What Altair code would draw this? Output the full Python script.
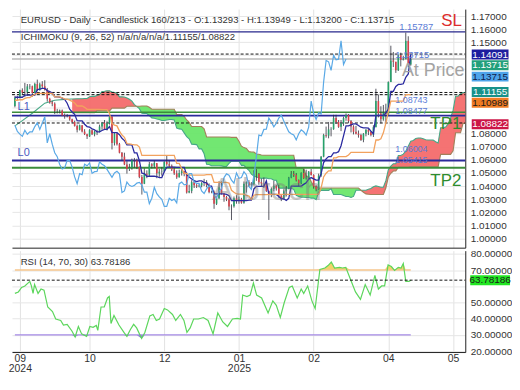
import altair as alt
import pandas as pd

# ---------------- values ----------------
first_open = 1.1013
closes = [1.1075,1.1075,1.1133,1.1115,1.1118,1.1162,1.1163,1.1112,1.1180,1.1133,
 1.1177,1.1163,1.1135,1.1067,1.1040,1.1030,1.0975,1.0975,1.0978,1.0940,
 1.0935,1.0935,1.0910,1.0890,1.0860,1.0830,1.0865,1.0817,1.0797,1.0780,
 1.0827,1.0796,1.0815,1.0815,1.0855,1.0883,1.0833,1.0880,1.0930,1.0730,
 1.0800,1.0720,1.0655,1.0625,1.0565,1.0530,1.0540,1.0597,1.0595,1.0545,
 1.0470,1.0418,1.0495,1.0487,1.0567,1.0555,1.0577,1.0497,1.0510,1.0512,
 1.0585,1.0567,1.0555,1.0528,1.0497,1.0467,1.0500,1.0513,1.0494,1.0351,
 1.0363,1.0430,1.0406,1.0397,1.0405,1.0423,1.0428,1.0408,1.0354,1.0354,
 1.0265,1.0307,1.0390,1.0342,1.0317,1.0299,1.0244,1.0245,1.0307,1.0290,
 1.0300,1.0272,1.0418,1.0430,1.0409,1.0413,1.0495,1.0495,1.0430,1.0420,
 1.0420,1.0362,1.0343,1.0378,1.0403,1.0382,1.0328,1.0308,1.0360,1.0380,
 1.0465,1.0493,1.0483,1.0445,1.0422,1.0500,1.0460,1.0465,1.0510,1.0485,
 1.0397,1.0375,1.0480,1.0625,1.0790,1.0785,1.0833,1.0835,1.0920,1.0890,
 1.0853,1.0880,1.0920,1.0943,1.0897,1.0855,1.0815,1.0800,1.0790,1.0753,
 1.0800,1.0830,1.0815,1.0790,1.0850,1.1050,1.0955,1.0910,1.0960,1.0950,
 1.1195,1.1360,1.1350,1.1285,1.1400,1.1365,1.1370,1.1510,1.1329,1.13715]
highs = [1.1087,1.1090,1.1136,1.1147,1.1189,1.1180,1.1180,1.1168,1.1190,1.1214,
 1.1190,1.1202,1.1209,1.1150,1.1075,1.1052,1.1040,1.0990,1.0985,1.0985,
 1.0955,1.0950,1.0940,1.0915,1.0900,1.0870,1.0870,1.0865,1.0835,1.0800,
 1.0835,1.0835,1.0825,1.0830,1.0870,1.0890,1.0905,1.0895,1.0935,1.0935,
 1.0810,1.0810,1.0730,1.0660,1.0655,1.0590,1.0570,1.0610,1.0615,1.0610,
 1.0550,1.0485,1.0535,1.0520,1.0585,1.0575,1.0595,1.0570,1.0530,1.0545,
 1.0590,1.0630,1.0595,1.0565,1.0540,1.0520,1.0525,1.0535,1.0515,1.0505,
 1.0410,1.0445,1.0445,1.0415,1.0415,1.0430,1.0455,1.0445,1.0420,1.0365,
 1.0365,1.0320,1.0437,1.0435,1.0345,1.0325,1.0310,1.0260,1.0320,1.0330,
 1.0320,1.0310,1.0435,1.0435,1.0445,1.0430,1.0520,1.0530,1.0500,1.0455,
 1.0465,1.0420,1.0365,1.0390,1.0440,1.0410,1.0410,1.0330,1.0375,1.0400,
 1.0470,1.0515,1.0515,1.0500,1.0450,1.0505,1.0530,1.0525,1.0515,1.0530,
 1.0490,1.0405,1.0495,1.0630,1.0800,1.0855,1.0890,1.0850,1.0945,1.0945,
 1.0905,1.0905,1.0930,1.0955,1.0950,1.0905,1.0865,1.0860,1.0825,1.0800,
 1.0805,1.0835,1.0840,1.0820,1.0865,1.1144,1.1100,1.1010,1.1020,1.1030,
 1.1200,1.1473,1.1425,1.1350,1.1405,1.1420,1.1395,1.1573,1.1545,1.13949]
lows = [1.1002,1.1060,1.1070,1.1100,1.1080,1.1090,1.1140,1.1083,1.1110,1.1125,
 1.1130,1.1150,1.1130,1.1045,1.1030,1.1010,1.0950,1.0955,1.0955,1.0935,
 1.0915,1.0925,1.0900,1.0880,1.0855,1.0810,1.0825,1.0810,1.0790,1.0760,
 1.0775,1.0790,1.0780,1.0790,1.0810,1.0830,1.0830,1.0825,1.0870,1.0680,
 1.0710,1.0710,1.0650,1.0595,1.0560,1.0495,1.0515,1.0525,1.0540,1.0530,
 1.0460,1.0335,1.0415,1.0460,1.0470,1.0535,1.0540,1.0460,1.0470,1.0480,
 1.0505,1.0555,1.0545,1.0515,1.0485,1.0455,1.0465,1.0480,1.0475,1.0343,
 1.0345,1.0345,1.0385,1.0385,1.0390,1.0390,1.0400,1.0390,1.0345,1.0345,
 1.0226,1.0255,1.0300,1.0335,1.0280,1.0285,1.0215,1.0140,1.0235,1.0265,
 1.0265,1.0265,1.0265,1.0350,1.0395,1.0380,1.0405,1.0440,1.0410,1.0400,
 1.0385,1.0355,1.0141,1.0315,1.0360,1.0365,1.0310,1.0285,1.0295,1.0320,
 1.0375,1.0460,1.0470,1.0435,1.0400,1.0415,1.0455,1.0450,1.0455,1.0480,
 1.0380,1.0360,1.0370,1.0470,1.0620,1.0770,1.0765,1.0780,1.0830,1.0875,
 1.0845,1.0820,1.0860,1.0900,1.0880,1.0810,1.0795,1.0795,1.0770,1.0745,
 1.0735,1.0780,1.0790,1.0780,1.0775,1.0850,1.0925,1.0880,1.0900,1.0890,
 1.0940,1.1195,1.1310,1.1265,1.1280,1.1315,1.1360,1.1370,1.1310,1.13200]
tenkan = [1.1079,1.1079,1.1079,1.1079,1.1096,1.1096,1.1096,1.1096,1.1096,1.1137,
 1.1142,1.1147,1.1147,1.1130,1.1122,1.1112,1.1082,1.1082,1.1080,1.1072,
 1.1062,1.1033,1.0988,1.0966,1.0948,1.0900,1.0898,1.0898,1.0873,1.0855,
 1.0850,1.0838,1.0830,1.0815,1.0815,1.0825,1.0833,1.0833,1.0855,1.0808,
 1.0808,1.0808,1.0793,1.0765,1.0748,1.0715,1.0715,1.0715,1.0653,1.0653,
 1.0595,1.0498,1.0495,1.0475,1.0475,1.0475,1.0475,1.0473,1.0465,1.0465,
 1.0510,1.0545,1.0545,1.0545,1.0545,1.0543,1.0543,1.0543,1.0543,1.0487,
 1.0469,1.0454,1.0442,1.0434,1.0439,1.0439,1.0429,1.0424,1.0400,1.0400,
 1.0340,1.0340,1.0340,1.0340,1.0340,1.0336,1.0326,1.0289,1.0289,1.0289,
 1.0289,1.0288,1.0288,1.0288,1.0293,1.0293,1.0378,1.0398,1.0398,1.0398,
 1.0398,1.0440,1.0336,1.0336,1.0336,1.0336,1.0320,1.0303,1.0303,1.0290,
 1.0306,1.0400,1.0400,1.0400,1.0400,1.0400,1.0413,1.0425,1.0453,1.0465,
 1.0455,1.0445,1.0445,1.0495,1.0580,1.0608,1.0625,1.0625,1.0653,1.0653,
 1.0663,1.0708,1.0783,1.0860,1.0860,1.0868,1.0875,1.0875,1.0863,1.0850,
 1.0845,1.0845,1.0843,1.0820,1.0800,1.0940,1.0940,1.0940,1.0940,1.0960,
 1.0988,1.1124,1.1124,1.1162,1.1177,1.1177,1.1182,1.1232,1.1257,1.1409]
kijun = [1.1056,1.1056,1.1060,1.1060,1.1070,1.1076,1.1076,1.1090,1.1102,1.1108,
 1.1108,1.1108,1.1108,1.1108,1.1108,1.1108,1.1082,1.1082,1.1082,1.1075,
 1.1065,1.1065,1.1057,1.1047,1.1035,1.1012,1.1012,1.1012,1.1002,1.0987,
 1.0987,1.0987,1.0987,1.0987,1.0987,1.0985,1.0985,1.0985,1.0955,1.0878,
 1.0866,1.0860,1.0820,1.0790,1.0773,1.0725,1.0723,1.0718,1.0715,1.0715,
 1.0698,1.0635,1.0635,1.0635,1.0635,1.0635,1.0635,1.0635,1.0635,1.0635,
 1.0635,1.0635,1.0635,1.0635,1.0635,1.0573,1.0573,1.0533,1.0498,1.0495,
 1.0483,1.0483,1.0483,1.0483,1.0483,1.0483,1.0483,1.0487,1.0487,1.0487,
 1.0428,1.0428,1.0428,1.0428,1.0428,1.0428,1.0423,1.0368,1.0353,1.0340,
 1.0338,1.0338,1.0338,1.0328,1.0323,1.0298,1.0330,1.0335,1.0335,1.0335,
 1.0335,1.0335,1.0336,1.0336,1.0336,1.0336,1.0336,1.0336,1.0336,1.0336,
 1.0336,1.0336,1.0336,1.0336,1.0336,1.0336,1.0336,1.0336,1.0336,1.0336,
 1.0336,1.0336,1.0336,1.0386,1.0470,1.0498,1.0516,1.0516,1.0615,1.0615,
 1.0625,1.0625,1.0625,1.0625,1.0638,1.0658,1.0658,1.0658,1.0658,1.0658,
 1.0658,1.0658,1.0658,1.0658,1.0658,1.0752,1.0752,1.0762,1.0807,1.0882,
 1.0968,1.1050,1.1050,1.1050,1.1050,1.1050,1.1050,1.1099,1.1099,1.1099]
span_a_early_bars = [0, 3, 7, 12, 16, 20, 23, 25]
span_a_early = [1.0860, 1.0900, 1.0957, 1.1034, 1.1056, 1.1063, 1.1066, 1.1068]
span_a_first_bar = 26
span_a = [1.1068,1.1068,1.1070,1.1070,1.1083,1.1086,1.1086,1.1093,1.1099,1.1123,
 1.1125,1.1128,1.1128,1.1119,1.1115,1.1110,1.1082,1.1082,1.1081,1.1074,
 1.1064,1.1049,1.1023,1.1007,1.0992,1.0956,1.0955,1.0955,1.0938,1.0921,
 1.0919,1.0913,1.0909,1.0901,1.0901,1.0905,1.0909,1.0909,1.0905,1.0843,
 1.0837,1.0834,1.0807,1.0778,1.0761,1.0720,1.0719,1.0717,1.0684,1.0684,
 1.0647,1.0567,1.0565,1.0555,1.0555,1.0555,1.0555,1.0554,1.0550,1.0550,
 1.0573,1.0590,1.0590,1.0590,1.0590,1.0558,1.0558,1.0538,1.0521,1.0491,
 1.0476,1.0469,1.0463,1.0459,1.0461,1.0461,1.0456,1.0456,1.0444,1.0444,
 1.0384,1.0384,1.0384,1.0384,1.0384,1.0382,1.0375,1.0329,1.0321,1.0315,
 1.0314,1.0313,1.0313,1.0308,1.0308,1.0296,1.0354,1.0367,1.0367,1.0367,
 1.0367,1.0380,1.0336,1.0336,1.0336,1.0336,1.0328,1.0320,1.0320,1.0313,
 1.0321,1.0368,1.0368,1.0368,1.0368,1.0368,1.0375,1.0381,1.0395,1.0401,
 1.0396,1.0391,1.0391,1.0441,1.0525,1.0553,1.0571,1.0571,1.0634,1.0634,
 1.0644,1.0667,1.0704,1.0743,1.0749,1.0763,1.0767,1.0767,1.0761,1.0754,
 1.0752,1.0752,1.0751,1.0739,1.0729,1.0846,1.0846,1.0851,1.0874,1.0921,
 1.0978,1.1087,1.1087,1.1106,1.1114,1.1114,1.1116,1.1166,1.1178,1.1254]
span_b_first_bar = 23
span_b = [1.0960,1.0960,1.0960,1.0960,1.0960,1.0960,1.0960,1.0960,1.0960,1.0960,
 1.0975,1.0975,1.0975,1.0975,1.0975,1.0975,
 1.0996,1.0996,1.0996,1.0996,1.0996,1.0996,
 1.1010,1.1010,1.1010,1.1010,1.1010,1.1010,
 1.1012,1.1012,1.1012,1.1002,
 1.0987,1.0987,1.0987,1.0987,1.0987,1.0987,1.0987,1.0987,1.0987,1.0987,
 1.0947,1.0947,1.0947,1.0932,1.0905,1.0887,
 1.0855,1.0855,1.0855,1.0855,1.0855,1.0837,
 1.0775,1.0775,1.0775,1.0775,1.0775,1.0775,1.0775,1.0775,1.0775,1.0775,
 1.0772,1.0772,1.0772,1.0743,1.0705,1.0694,1.0688,1.0663,1.0660,1.0660,
 1.0645,1.0643,1.0638,
 1.0635,1.0635,1.0635,1.0635,1.0635,1.0635,1.0635,1.0635,1.0635,1.0635,1.0635,1.0635,1.0635,
 1.0538,1.0538,1.0538,1.0538,1.0475,1.0475,1.0435,1.0400,1.0398,
 1.0385,1.0385,1.0385,1.0385,1.0385,1.0385,1.0385,1.0385,1.0385,1.0385,
 1.0385,1.0385,1.0385,1.0385,1.0385,1.0385,1.0385,
 1.0368,1.0353,1.0340,1.0338,
 1.0336,1.0336,1.0336,1.0336,1.0336,1.0336,
 1.0385,1.0470,1.0498,1.0515,1.0515,
 1.0543,1.0543,1.0543,1.0543,1.0543,
 1.0548,1.0548,1.0548,1.0548,1.0548,1.0548,1.0548,1.0548,1.0548,1.0548,1.0548,1.0548,
 1.0642,1.0642,1.0642,1.0642,1.0642,1.0670,
 1.0807,1.0807,1.0807,1.0879,1.0879,1.0879,1.0929,1.0929,1.0929]
rsi_bars = [0,1.4,2.7,4.0,6.0,6.6,7.3,7.9,9.3,10.5,11.7,13.2,15.1,16.4,18.4,19.5,21.0,22.9,24.2,25.5,
 26.8,28.8,30.1,31.4,32.7,33.3,34.6,35.9,37.2,37.9,38.6,39.8,41.8,43.8,45.0,46.4,47.7,48.9,50.9,52.2,
 54.2,55.5,56.8,58.1,60.0,61.3,63.3,64.6,66.5,67.9,69.1,70.4,71.8,73.7,75.7,77.6,79.6,81.5,83.5,85.4,
 87.4,89.3,90.6,91.5,93.2,94.5,95.8,97.1,99.1,101.7,103.6,105.0,106.6,108.2,110.2,111.4,113.4,115.0,116.0,117.6,
 119.3,120.6,122.5,124.5,125.8,127.1,128.4,130.4,131.6,132.9,134.9,136.8,138.8,140.7,142.7,144.6,146.0,147.3,148.5,149.9,
 151.2,152.5,154.0,155.1,156.0,157.0,158.3,159.0]
rsi_values = [55.6,56.5,59.3,60.2,63.0,60.4,55.6,61.1,55.6,58.3,57.6,47.2,44.4,39.8,38.9,36.1,36.5,32.4,28.7,35.2,
 30.6,29.1,35.2,34.7,35.8,32.8,47.2,47.2,52.8,53.7,37.0,42.0,36.1,31.5,29.1,33.3,36.5,34.3,27.8,31.5,
 41.7,42.6,38.9,39.8,46.3,45.4,42.6,38.9,42.6,38.9,31.5,34.3,39.8,39.8,40.7,38.9,30.6,43.5,38.0,35.2,
 39.8,40.2,39.8,54.6,53.7,54.6,62.0,54.6,52.8,43.5,51.0,48.2,40.8,50.0,59.3,60.2,52.8,58.3,55.6,60.2,
 51.0,46.3,70.4,71.3,72.8,75.0,71.3,71.7,71.3,71.7,63.9,56.5,51.9,61.1,54.6,66.7,58.3,60.2,60.2,73.2,
 72.2,69.8,71.7,71.3,74.1,63.0,63.0,63.78]
rsi_last = 63.78186
rsi_overbought = 70
rsi_oversold = 30
rsi_band_first_bar = 0
rsi_band_last_bar = 159
month_tick_bars = [2, 30, 60, 90, 120, 150, 176]
month_tick_month = ['09', '10', '12', '01', '02', '04', '05']
month_tick_year = ['2024', '', '', '2025', '', '', '']
price_ticks = [1.00, 1.01, 1.02, 1.03, 1.04, 1.05, 1.06, 1.07, 1.08, 1.09,
               1.10, 1.11, 1.12, 1.13, 1.14, 1.15, 1.16, 1.17]
price_ticks_under_boxes = [1.09, 1.10, 1.11, 1.12, 1.13, 1.14]
rsi_ticks = [20, 30, 40, 50, 60, 70, 80]
rsi_ticks_under_box = [60]
solid_level_names = ['SL', 'At Price', 'TP1', 'L1', 'L0', 'TP2']
solid_level_prices = [1.15787, 1.13715, 1.0964, 1.0938, 1.0595, 1.0540]
dashed_level_prices = [1.14091, 1.11155, 1.10989, 1.08822]
value_box_names = ['tenkan', 'close', 'chikou', 'span_a', 'kijun', 'span_b']
value_box_texts = ['1.14091', '1.13715', '1.13715', '1.11155', '1.10989', '1.08822']
value_box_prices = [1.14056, 1.13232, 1.12366, 1.1119, 1.10366, 1.08725]

# ---------------- layout & styles ----------------
FONT = 'Liberation Sans'
W, H1, H2 = 456, 240, 102
X_DOMAIN = [-1.17, 180.9]
Y_DOMAIN = [0.9929, 1.1753]
RSI_DOMAIN = [19.4, 82.0]


def sx(x):
    return x * W / 466


def sy(y):
    return y * H1 / 259


def sr(y):
    return (y - 260) * H2 / 108


level_color = {'SL': '#27278c', 'At Price': '#b9b9b9', 'TP1': '#3b8c3b',
               'L1': '#2a2a9c', 'L0': '#2a2a9c', 'TP2': '#3b8c3b'}
level_width = {'SL': 1.3, 'At Price': 2.2, 'TP1': 1.3, 'L1': 1.3, 'L0': 1.3, 'TP2': 1.3}
box_fill = {'tenkan': '#1d1d9e', 'close': '#23a07b', 'chikou': '#4ea4ea',
            'span_a': '#17918a', 'kijun': '#f07c24', 'span_b': '#cc1647'}
box_text_color = {'tenkan': '#ffffff', 'close': '#ffffff', 'chikou': '#10204a',
                  'span_a': '#ffffff', 'kijun': '#1a1a1a', 'span_b': '#ffffff'}

xs = alt.Scale(domain=X_DOMAIN, nice=False, zero=False)
ys = alt.Scale(domain=Y_DOMAIN, nice=False, zero=False)
rs = alt.Scale(domain=RSI_DOMAIN, nice=False, zero=False)

one = pd.DataFrame({'k': [0]})

# ---------------- tables ----------------
N = len(closes)
opens = [first_open] + closes[:-1]
candles = pd.DataFrame({'i': list(range(N)), 'o': opens, 'h': highs, 'l': lows, 'c': closes})

tenkan_df = pd.DataFrame({'i': list(range(N)), 'v': tenkan})
kijun_df = pd.DataFrame({'i': list(range(N)), 'v': kijun})
chikou_df = pd.DataFrame({'i': [k - 26 for k in range(26, N)], 'v': closes[26:]})

a_bars = span_a_early_bars + list(range(span_a_first_bar, span_a_first_bar + len(span_a)))
a_vals = span_a_early + span_a
b_bars = list(range(span_b_first_bar, span_b_first_bar + len(span_b)))
spanA_df = pd.DataFrame({'i': a_bars, 'v': a_vals})
spanB_df = pd.DataFrame({'i': b_bars, 'v': span_b})

A = dict(zip(a_bars, a_vals))
B = dict(zip(b_bars, span_b))
common = sorted(set(A) & set(B))
rows = []
seg = 0
prev = None
for k in common:
    a, b = A[k], B[k]
    s = 'r' if a >= b else 'g'
    if prev is not None and s != prev[3]:
        k0, a0, b0, s0 = prev
        d0, d1 = a0 - b0, a - b
        t = d0 / (d0 - d1) if d0 != d1 else 0.5
        xc = k0 + t * (k - k0)
        vc = a0 + t * (a - a0)
        rows.append({'i': xc, 'a': vc, 'b': vc, 'seg': seg, 'col': s0})
        seg += 1
        rows.append({'i': xc, 'a': vc, 'b': vc, 'seg': seg, 'col': s})
    rows.append({'i': k, 'a': a, 'b': b, 'seg': seg, 'col': s})
    prev = (k, a, b, s)
cloud = pd.DataFrame(rows)

solid_df = pd.DataFrame({'name': solid_level_names, 'p': solid_level_prices})
dashed_df = pd.DataFrame({'p': dashed_level_prices})
boxes = pd.DataFrame({'name': value_box_names, 't': value_box_texts, 'p': value_box_prices})
rsi_df = pd.DataFrame({'i': rsi_bars, 'v': rsi_values})
rsi_bands = pd.DataFrame({'name': ['ob', 'os'], 'v': [rsi_overbought, rsi_oversold],
                          'i0': [rsi_band_first_bar] * 2, 'i1': [rsi_band_last_bar] * 2})
rsi_now = pd.DataFrame({'v': [rsi_last], 't': [f'{rsi_last:.5f}']})


def hide_expr(hidden, fmt):
    cond = ' || '.join(f'abs(datum.value - {h}) < 1e-6' for h in hidden)
    return f"({cond}) ? '' : format(datum.value, '{fmt}')"


# ---------------- main panel ----------------
MX = alt.Axis(values=month_tick_bars, grid=True, gridColor='#e2e2e2', labels=False,
              ticks=False, domainColor='#222222', title=None)
MY = alt.Axis(orient='right', values=price_ticks, labelExpr=hide_expr(price_ticks_under_boxes, '.5f'),
              grid=True, gridColor='#e6e6e6', ticks=False, labelPadding=5, labelFontSize=10,
              labelColor='#333333', labelFont=FONT, domainColor='#222222', title=None,
              labelOverlap=False, labelFlush=False, labelBound=False)


def mx(field='i'):
    return alt.X(f'{field}:Q', scale=xs, axis=MX)


def my(field):
    return alt.Y(f'{field}:Q', scale=ys, axis=MY)


cloud_layer = alt.Chart(cloud).mark_area(opacity=0.9, clip=True).encode(
    x=mx(), y=my('a'), y2='b:Q',
    color=alt.Color('col:N', scale=alt.Scale(domain=['r', 'g'], range=['#f46464', '#63e463']), legend=None),
    detail='seg:N',
)


def line_layer(df, color, width=1.2):
    return alt.Chart(df).mark_line(color=color, strokeWidth=width, clip=True).encode(x=mx(), y=my('v'))


spanA_line = line_layer(spanA_df, '#46a886', 1.1)
spanB_line = line_layer(spanB_df, '#a2805a', 1.1)

solid_rules = alt.Chart(solid_df).mark_rule().encode(
    x=alt.value(0), x2=alt.value(W), y=my('p'),
    color=alt.Color('name:N', scale=alt.Scale(domain=list(level_color), range=list(level_color.values())), legend=None),
    strokeWidth=alt.StrokeWidth('name:N', scale=alt.Scale(domain=list(level_width), range=list(level_width.values())), legend=None),
)
dashed_rules = alt.Chart(dashed_df).mark_rule(color='#111111', strokeWidth=1, strokeDash=[3, 2]).encode(
    x=alt.value(0), x2=alt.value(W), y=my('p'))

wicks = alt.Chart(candles).mark_rule(color='#2d2d3a', strokeWidth=0.8).encode(
    x=mx(), y=my('l'), y2='h:Q')
bodies = alt.Chart(candles).mark_rule(strokeWidth=1.6).encode(
    x=mx(), y=my('o'), y2='c:Q',
    color=alt.condition('datum.c >= datum.o', alt.value('#25a26a'), alt.value('#d9404a')))

tenkan_line = line_layer(tenkan_df, '#2b2ba0', 1.3)
kijun_line = line_layer(kijun_df, '#f2a25e', 1.3)
chikou_line = line_layer(chikou_df, '#5aa9e6', 1.2)


def text(t, x, y, size=10, color='#333333', align='left', opacity=1.0):
    return alt.Chart(one).mark_text(text=t, align=align, baseline='middle', fontSize=size,
                                    color=color, font=FONT, opacity=opacity).encode(
        x=alt.value(x), y=alt.value(y))


annot = [
    text('AIbroch', sx(262), sy(197), 32, '#7a7a7a', 'center', 0.42),
    text('EURUSD - Daily - Candlestick   160/213 - O:1.13293 - H:1.13949 - L:1.13200 - C:1.13715',
         sx(9), sy(12), 9.6, '#333333'),
    text('ICHIMOKU (9, 26, 52)   n/a/n/a/n/a/1.11155/1.08822', sx(9), sy(30), 9.6, '#333333'),
    text('1.15787', sx(398), sy(19.5), 9.5, '#5b7bd6'),
    text('SL', sx(452), sy(12.5), 17, '#dd2c2c', 'center'),
    text('1.13715', sx(394), sy(49.5), 9.5, '#5b7bd6'),
    text('At Price', sx(433), sy(67.5), 18, '#a3a3a3', 'center'),
    text('1.08743', sx(394), sy(98.5), 9, '#5b7bd6'),
    text('1.08477', sx(394), sy(110.5), 9, '#5b7bd6'),
    text('TP1', sx(446), sy(125), 17, '#2e8c2e', 'center'),
    text('1.06004', sx(394), sy(152), 9, '#5b7bd6'),
    text('1.05415', sx(394), sy(164), 9, '#5b7bd6'),
    text('TP2', sx(446), sy(186.5), 17, '#2e8c2e', 'center'),
    text('L1', sx(12), sy(106), 11, '#4a5abf', 'center'),
    text('L0', sx(12), sy(156), 11, '#4a5abf', 'center'),
]

BOX_PATH = 'M-1,-0.27L1,-0.27L1,0.27L-1,0.27Z'
box_marks = alt.Chart(boxes).mark_point(shape=BOX_PATH, size=1369, filled=True, opacity=1).encode(
    x=alt.value(W + 25), y=my('p'),
    color=alt.Color('name:N', scale=alt.Scale(domain=list(box_fill), range=list(box_fill.values())), legend=None))
box_texts = alt.Chart(boxes).mark_text(fontSize=10, font=FONT, align='center', baseline='middle').encode(
    x=alt.value(W + 25), y=my('p'), text='t:N',
    color=alt.Color('name:N', scale=alt.Scale(domain=list(box_text_color), range=list(box_text_color.values())), legend=None))

main = alt.layer(cloud_layer, spanA_line, spanB_line, solid_rules, dashed_rules, wicks, bodies,
                 tenkan_line, kijun_line, chikou_line, *annot, box_marks, box_texts
                 ).resolve_scale(color='independent', strokeWidth='independent').properties(width=W, height=H1)

# ---------------- RSI panel ----------------
parts = []
for v, m, yv in zip(month_tick_bars, month_tick_month, month_tick_year):
    lab = f"['{m}', '{yv}']" if yv else f"'{m}'"
    parts.append(f"datum.value == {v} ? {lab} : ")
label_expr = ''.join(parts) + "''"

RX = alt.Axis(values=month_tick_bars, grid=True, gridColor='#e2e2e2', ticks=False,
              labelExpr=label_expr, labelFontSize=10.5, labelFont=FONT, labelColor='#333333',
              labelPadding=2, labelLineHeight=10, domainColor='#222222', title=None, labelFlush=False)
RY = alt.Axis(orient='right', values=rsi_ticks, labelExpr=hide_expr(rsi_ticks_under_box, '.5f'),
              grid=True, gridColor='#e6e6e6', ticks=False, labelPadding=5, labelFontSize=10,
              labelColor='#333333', labelFont=FONT, domainColor='#222222', title=None,
              labelOverlap=False, labelFlush=False, labelBound=False)


def rx(field='i'):
    return alt.X(f'{field}:Q', scale=xs, axis=RX)


def ry(field):
    return alt.Y(f'{field}:Q', scale=rs, axis=RY)


rsi_top = alt.Chart(rsi_df).transform_calculate(
    top=f'max(datum.v, {rsi_overbought})', base=f'{rsi_overbought}'
).mark_area(color='#f2d36b').encode(x=rx(), y=ry('top'), y2='base:Q')
rsi_bot = alt.Chart(rsi_df).transform_calculate(
    bot=f'min(datum.v, {rsi_oversold})', base=f'{rsi_oversold}'
).mark_area(color='#8c84d8').encode(x=rx(), y=ry('bot'), y2='base:Q')
band_rules = alt.Chart(rsi_bands).mark_rule(strokeWidth=1.5).encode(
    x=rx('i0'), x2='i1:Q', y=ry('v'),
    color=alt.Color('name:N', scale=alt.Scale(domain=['ob', 'os'], range=['#f6c68c', '#a58ae6']), legend=None))
rsi_line = alt.Chart(rsi_df).mark_line(color='#5cd65c', strokeWidth=1.2).encode(x=rx(), y=ry('v'))
rsi_dash = alt.Chart(rsi_now).mark_rule(color='#111111', strokeDash=[3, 2], strokeWidth=1).encode(
    x=alt.value(0), x2=alt.value(W), y=ry('v'))
rsi_title = text('RSI (14, 70, 30)   63.78186', sx(9), sr(272), 9.6, '#333333')
rsi_box = alt.Chart(rsi_now).mark_point(shape='M-1,-0.25L1,-0.25L1,0.25L-1,0.25Z', size=1600, filled=True,
                                        opacity=1, color='#22e622').encode(
    x=alt.value(W + 25), y=ry('v'))
rsi_box_text = alt.Chart(rsi_now).mark_text(fontSize=10, font=FONT, color='#1a1a1a').encode(
    x=alt.value(W + 25), y=ry('v'), text='t:N')

rsi = alt.layer(rsi_top, rsi_bot, band_rules, rsi_line, rsi_dash, rsi_title, rsi_box, rsi_box_text
                ).properties(width=W, height=H2)

chart = alt.vconcat(main, rsi, spacing=1).properties(
    padding={'left': 0, 'top': 0, 'right': 0, 'bottom': 0}
).configure_view(stroke=None)

chart.save('out.html', embed_options={'renderer': 'svg', 'actions': False})
